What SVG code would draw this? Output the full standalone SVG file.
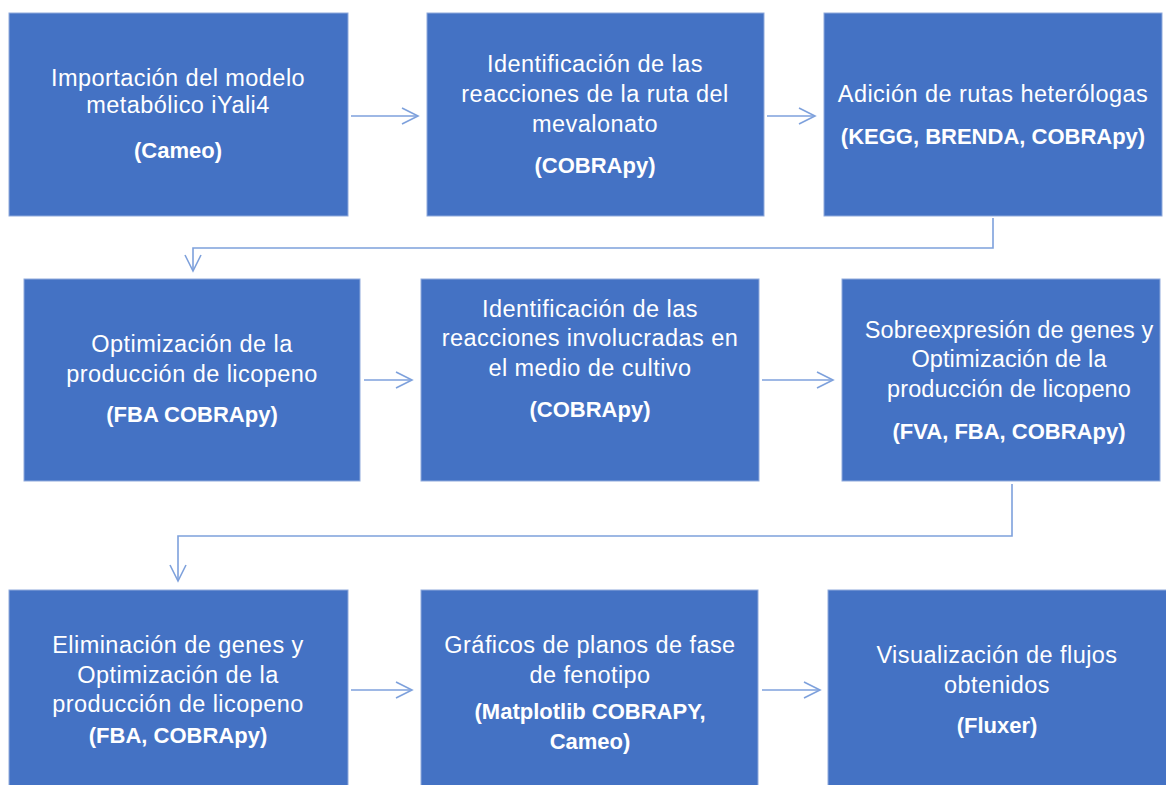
<svg xmlns="http://www.w3.org/2000/svg" width="1166" height="785" viewBox="0 0 1166 785">
<defs>
<style>
.box{fill:#4472C4;stroke:#8FAADC;stroke-width:1}
.t{font-family:"Liberation Sans",Arial,sans-serif;font-size:23.5px;letter-spacing:0.45px;fill:#ffffff;text-anchor:middle}
.n{letter-spacing:0.1px}
.b{font-weight:bold;font-size:22px;letter-spacing:0}
.c{fill:none;stroke:#7EA1DC;stroke-width:1.6}
</style>
<marker id="ah" markerWidth="24" markerHeight="24" viewBox="0 0 24 24" refX="20" refY="12" orient="auto" markerUnits="userSpaceOnUse">
<path d="M4,4 L20,12 L4,20" fill="none" stroke="#7EA1DC" stroke-width="1.6"/>
</marker>
</defs>
<rect width="1166" height="785" fill="#ffffff"/>
<g id="connectors">
<line class="c" x1="351" y1="116" x2="418" y2="116" marker-end="url(#ah)"/>
<line class="c" x1="767" y1="116" x2="815" y2="116" marker-end="url(#ah)"/>
<polyline class="c" points="993,218 993,248 193,248 193,271" marker-end="url(#ah)"/>
<line class="c" x1="364" y1="380" x2="412" y2="380" marker-end="url(#ah)"/>
<line class="c" x1="762" y1="380" x2="833" y2="380" marker-end="url(#ah)"/>
<polyline class="c" points="1012,484 1012,536 178,536 178,581" marker-end="url(#ah)"/>
<line class="c" x1="351" y1="690" x2="412" y2="690" marker-end="url(#ah)"/>
<line class="c" x1="762" y1="690" x2="820" y2="690" marker-end="url(#ah)"/>
</g>
<g id="n1">
<rect class="box" x="9" y="13" width="339" height="203"/>
<text class="t" x="178" y="86">Importación del modelo</text>
<text class="t" x="178" y="113">metabólico iYali4</text>
<text class="t b" x="178" y="158">(Cameo)</text>
</g>
<g id="n2">
<rect class="box" x="427" y="13" width="337" height="203"/>
<text class="t" x="595" y="72">Identificación de las</text>
<text class="t" x="595" y="102">reacciones de la ruta del</text>
<text class="t" x="595" y="132">mevalonato</text>
<text class="t b" x="595" y="173">(COBRApy)</text>
</g>
<g id="n3">
<rect class="box" x="824" y="13" width="338" height="203"/>
<text class="t" x="993" y="102">Adición de rutas heterólogas</text>
<text class="t b" x="993" y="144">(KEGG, BRENDA, COBRApy)</text>
</g>
<g id="n4">
<rect class="box" x="24" y="279" width="336" height="202"/>
<text class="t" x="192" y="352">Optimización de la</text>
<text class="t" x="192" y="382">producción de licopeno</text>
<text class="t b" x="192" y="422">(FBA COBRApy)</text>
</g>
<g id="n5">
<rect class="box" x="421" y="279" width="338" height="202"/>
<text class="t" x="590" y="317">Identificación de las</text>
<text class="t" x="590" y="346">reacciones involucradas en</text>
<text class="t" x="590" y="376">el medio de cultivo</text>
<text class="t b" x="590" y="417">(COBRApy)</text>
</g>
<g id="n6">
<rect class="box" x="842" y="279" width="318" height="202"/>
<text class="t n" x="1009" y="338">Sobreexpresión de genes y</text>
<text class="t n" x="1009" y="367">Optimización de la</text>
<text class="t n" x="1009" y="397">producción de licopeno</text>
<text class="t b" x="1009" y="439">(FVA, FBA, COBRApy)</text>
</g>
<g id="n7">
<rect class="box" x="9" y="590" width="339" height="196"/>
<text class="t" x="178" y="653">Eliminación de genes y</text>
<text class="t" x="178" y="683">Optimización de la</text>
<text class="t" x="178" y="712">producción de licopeno</text>
<text class="t b" x="178" y="743">(FBA, COBRApy)</text>
</g>
<g id="n8">
<rect class="box" x="421" y="590" width="337" height="196"/>
<text class="t" x="590" y="653">Gráficos de planos de fase</text>
<text class="t" x="590" y="683">de fenotipo</text>
<text class="t b" x="590" y="719">(Matplotlib COBRAPY,</text>
<text class="t b" x="590" y="749">Cameo)</text>
</g>
<g id="n9">
<rect class="box" x="828" y="590" width="339" height="196"/>
<text class="t" x="997" y="663">Visualización de flujos</text>
<text class="t" x="997" y="693">obtenidos</text>
<text class="t b" x="997" y="733">(Fluxer)</text>
</g>
</svg>
